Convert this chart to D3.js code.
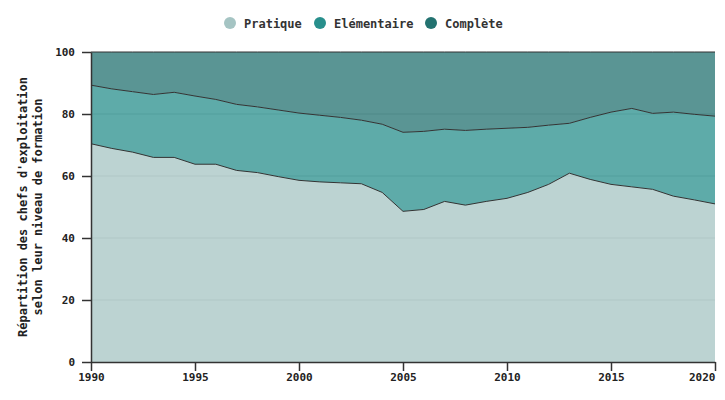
<!DOCTYPE html>
<html>
<head>
<meta charset="utf-8">
<script src="https://cdn.jsdelivr.net/npm/d3@7"></script>
<style>
  body { margin: 0; background: #fff; }
  svg { font-family: "DejaVu Sans Mono", monospace; font-weight: bold; }
</style>
</head>
<body>
<svg id="chart" width="725" height="400"></svg>
<script>
// years 1990..2020
const years = d3.range(1990, 2021);
// share (%) of farm heads by training level
const pratique = [70.4, 68.9, 67.7, 66.0, 66.0, 63.8, 63.8, 61.8, 61.1, 59.8,
                  58.6, 58.1, 57.8, 57.5, 54.7, 48.6, 49.2, 51.8, 50.6, 51.8,
                  52.8, 54.7, 57.3, 60.9, 58.9, 57.3, 56.5, 55.7, 53.5, 52.3, 51.0];
const elementaire = [18.9, 19.2, 19.5, 20.3, 21.0, 22.0, 20.9, 21.3, 21.2, 21.5,
                     21.7, 21.5, 21.1, 20.5, 22.0, 25.5, 25.2, 23.3, 24.1, 23.3,
                     22.6, 21.0, 19.1, 16.1, 20.0, 23.3, 25.3, 24.5, 27.1, 27.6, 28.3];
const complete = [10.7, 11.9, 12.8, 13.7, 13.0, 14.2, 15.3, 16.9, 17.7, 18.7,
                  19.7, 20.4, 21.1, 22.0, 23.3, 25.9, 25.6, 24.9, 25.3, 24.9,
                  24.6, 24.3, 23.6, 23.0, 21.1, 19.4, 18.2, 19.8, 19.4, 20.1, 20.7];
const seriesNames = ["Pratique", "Elémentaire", "Complète"];
const colors = ["#a5c4c3", "#288f8c", "#237270"];
const yTicks = [0, 20, 40, 60, 80, 100];
const xTicks = [1990, 1995, 2000, 2005, 2010, 2015, 2020];

const svg = d3.select("#chart");
const margin = {top: 52, right: 10, bottom: 38, left: 91};
const height = 400 - margin.top - margin.bottom;

const rows = years.map((y, i) => ({
  year: y,
  Pratique: pratique[i],
  "Elémentaire": elementaire[i],
  "Complète": complete[i]
}));

const layers = d3.stack().keys(seriesNames)(rows);

const x = d3.scaleLinear().domain([1990, 2020]).range([0, 624]);
const y = d3.scaleLinear().domain([0, 100]).range([height, 0]);

const g = svg.append("g")
    .attr("transform", `translate(${margin.left}, ${margin.top})`);

// grid
g.append("g")
    .selectAll("line")
    .data(yTicks.filter(t => t > 0 && t < 100))
    .enter().append("line")
    .attr("x1", 0).attr("x2", x(2020))
    .attr("y1", d => y(d)).attr("y2", d => y(d))
    .attr("stroke", "#ccc")
    .attr("stroke-width", 1);

const area = d3.area()
    .x(d => x(d.data.year))
    .y0(d => y(d[0]))
    .y1(d => y(d[1]));

g.selectAll("path.layer")
    .data(layers)
    .enter().append("path")
    .attr("class", "layer")
    .attr("d", area)
    .attr("fill", (d, i) => colors[i])
    .attr("fill-opacity", 0.75);

const line = d3.line()
    .x(d => x(d.data.year))
    .y(d => y(d[1]));

g.selectAll("path.edge")
    .data(layers)
    .enter().append("path")
    .attr("class", "edge")
    .attr("d", line)
    .attr("fill", "none")
    .attr("stroke", "#333")
    .attr("stroke-width", 1);

// axes
const xAxis = g.append("g")
    .attr("transform", `translate(0, ${height})`)
    .call(d3.axisBottom(x).tickValues(xTicks).tickFormat(d3.format("d"))
      .tickSize(9).tickPadding(2).tickSizeOuter(0));
xAxis.selectAll("text")
    .attr("font-size", 11)
    .attr("font-family", "DejaVu Sans Mono")
    .attr("font-weight", "bold")
    .attr("fill", "#222")
    .attr("text-anchor", d => d === 2020 ? "end" : "middle");

const yAxis = g.append("g")
    .call(d3.axisLeft(y).tickValues(yTicks).tickSize(9).tickPadding(7).tickSizeOuter(0));
yAxis.selectAll("text")
    .attr("font-size", 11)
    .attr("font-family", "DejaVu Sans Mono")
    .attr("font-weight", "bold")
    .attr("fill", "#222");

[xAxis, yAxis].forEach(a => {
  a.select(".domain").attr("stroke", "#333").attr("stroke-width", 1.5);
  a.selectAll(".tick line").attr("stroke", "#333").attr("stroke-width", 1.5);
});

// y label
const yl = svg.append("text")
    .attr("transform", `translate(27, ${margin.top + height / 2}) rotate(-90)`)
    .attr("text-anchor", "middle")
    .attr("font-size", 12)
    .attr("fill", "#222");
yl.append("tspan").attr("x", 0).attr("dy", 0).text("Répartition des chefs d'exploitation");
yl.append("tspan").attr("x", 0).attr("dy", "1.25em").text("selon leur niveau de formation");

// legend
const legendX = [230, 320, 431];
const legend = svg.append("g");
seriesNames.forEach((name, i) => {
  legend.append("circle")
      .attr("cx", legendX[i]).attr("cy", 23).attr("r", 6)
      .attr("fill", colors[i]);
  legend.append("text")
      .attr("x", legendX[i] + 14).attr("y", 23)
      .attr("dy", "0.4em")
      .attr("font-size", 12)
      .attr("fill", "#333")
      .text(name);
});
</script>
</body>
</html>
